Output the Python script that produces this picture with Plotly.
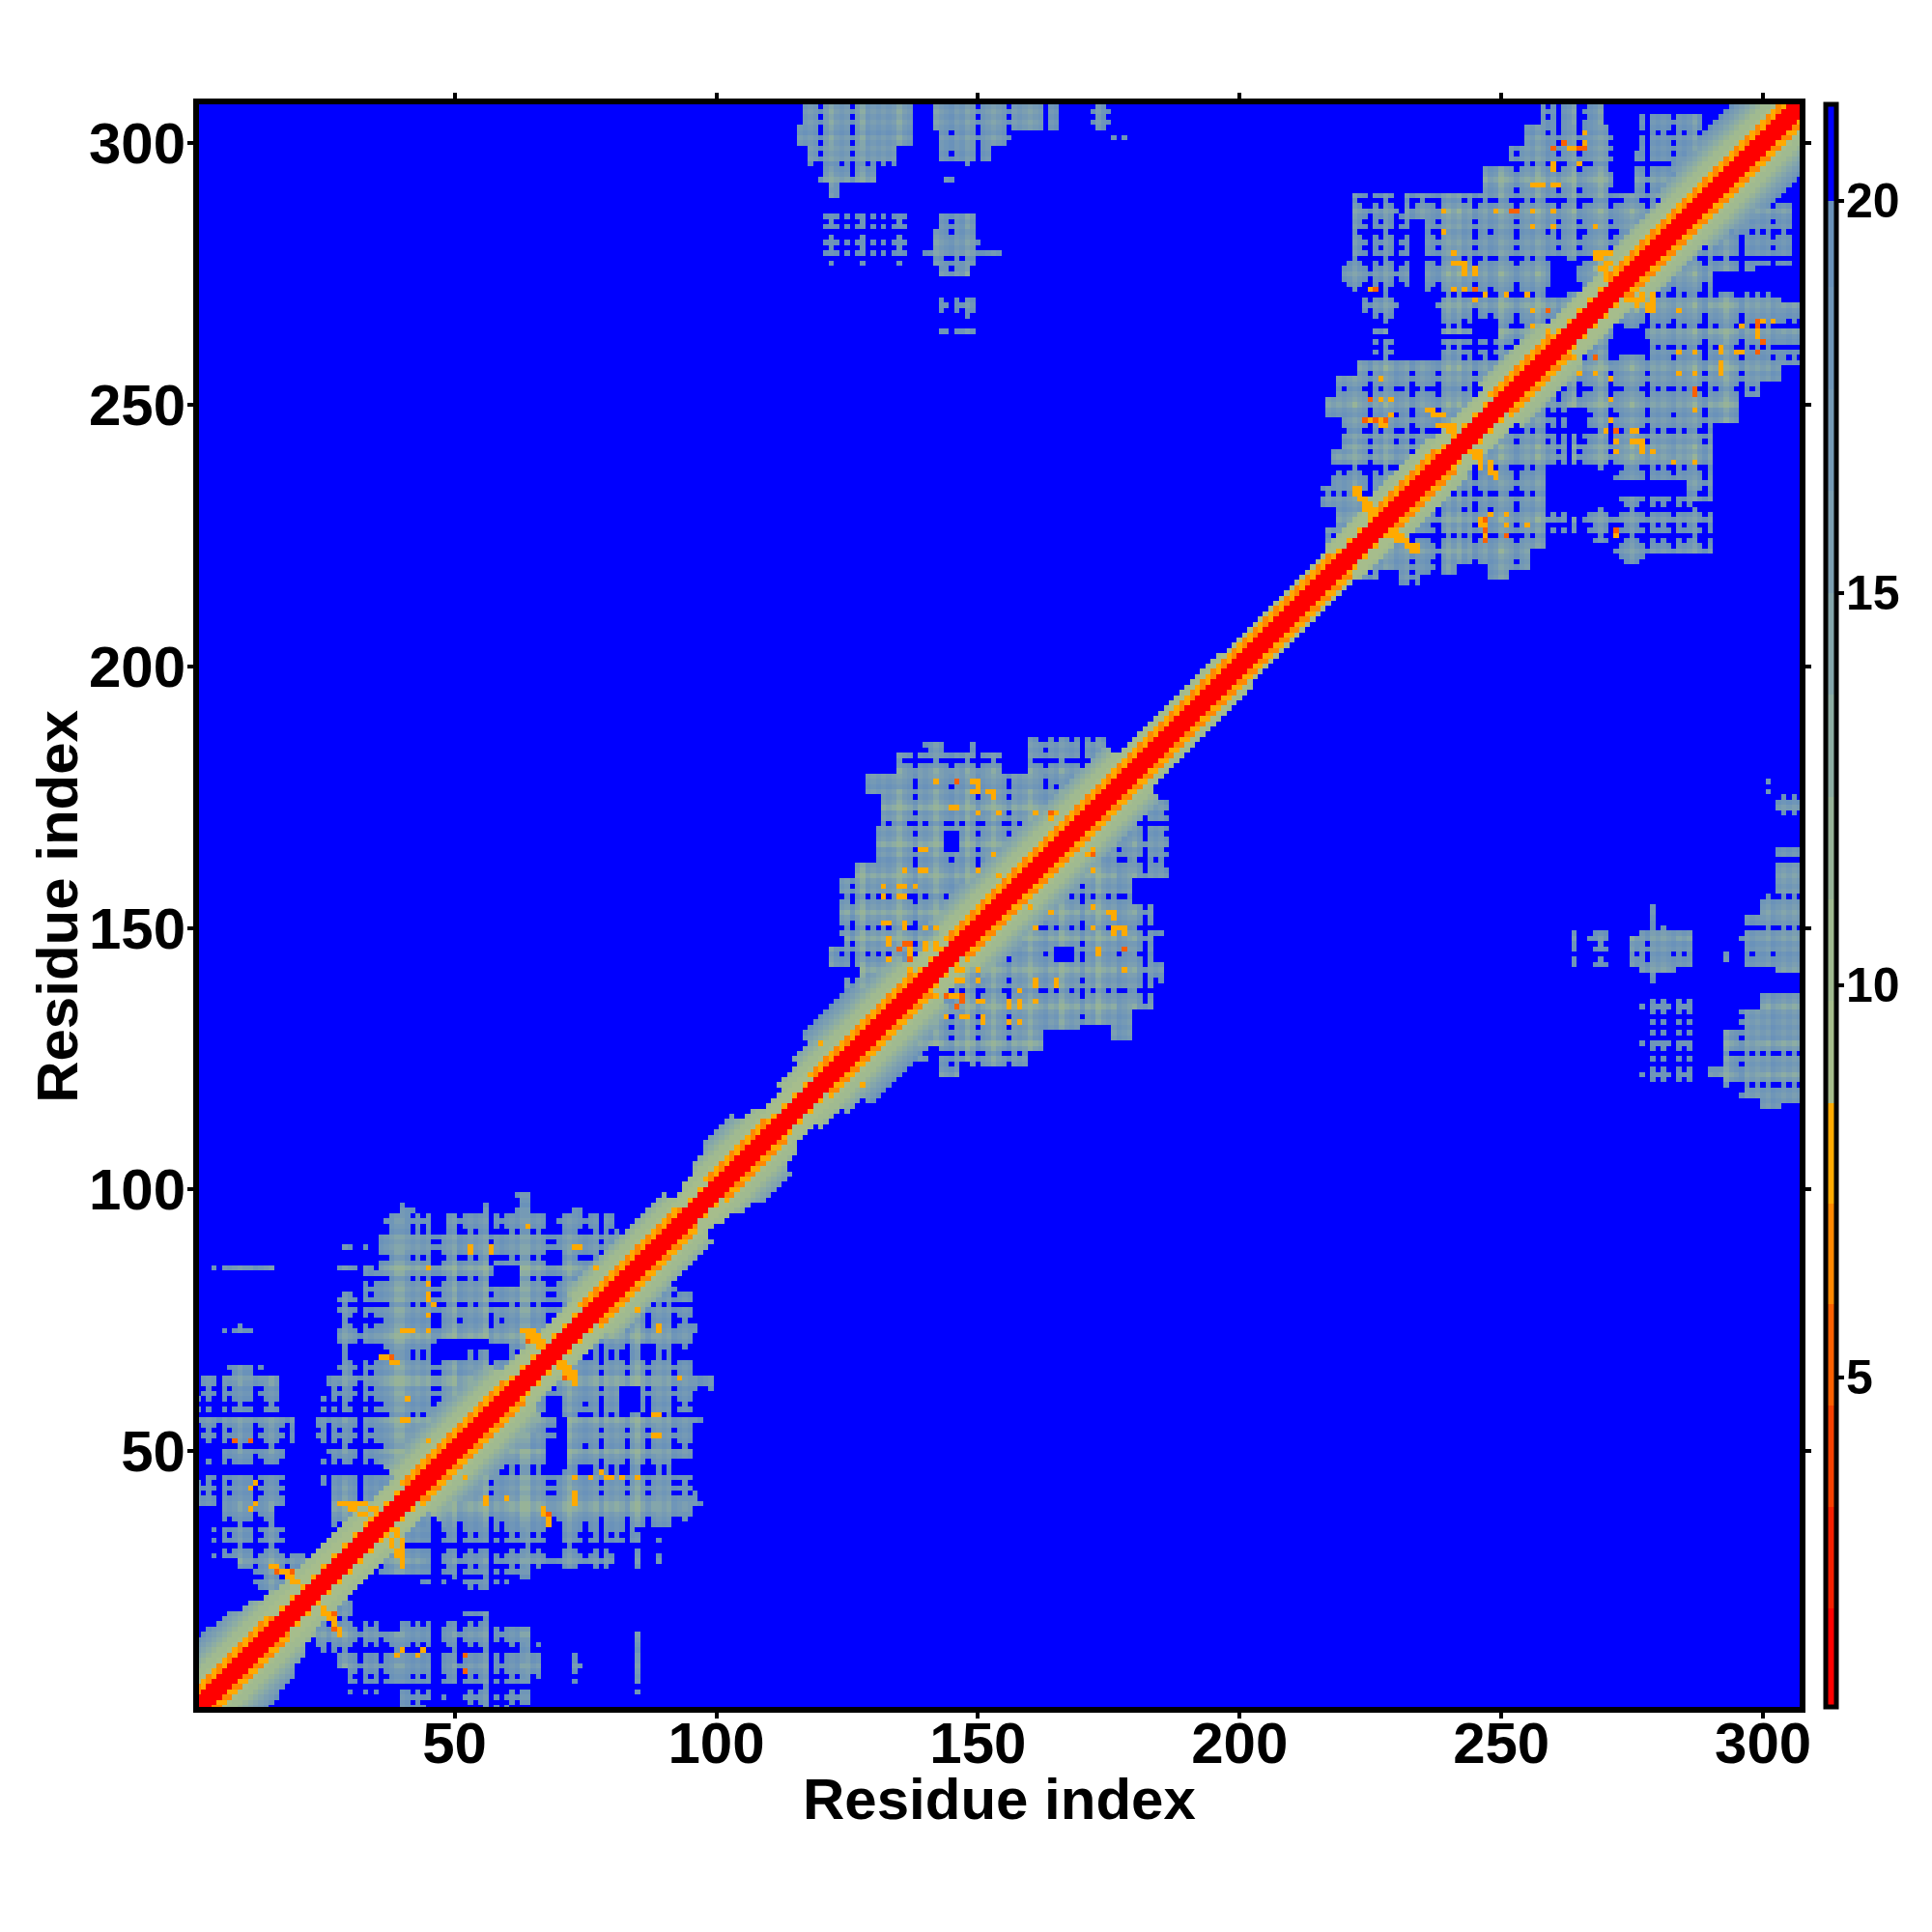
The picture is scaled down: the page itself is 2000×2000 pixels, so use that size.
import numpy as np
import plotly.graph_objects as go

# All values are estimates.
# The per-residue texture below is a coarse hand approximation of its striping.
RESIDUES = list(range(1, 308))
TICKS = [50, 100, 150, 200, 250, 300]
CBAR_TICKS = [5, 10, 15, 20]
BLUE_VALUE = 21.0

# residue 1.. : o buried, - neutral, + exposed, x and X increasingly exposed
TEXTURE = ("-+-+X-+-o-" "-x+-o-+X-+" "-o-+-x-+o-" "+X-+-x+-oo" "-+-+-XX+-o"
           "x+-+-oX+x+" "-+oo+-+XXx" "-o-+x+-X-+" "-+X-o+X+-+" "-X+-+-x+-+"
           "+x-+X-+-x+" "-+-x+-+-+X" "-o-+-X-o+-" "+-+-o-+X-+" "-o-+x-+o-X"
           "+-o-+X-+-o" "-+x-+o-+-X" "-+o-+-x+-o" "+X-+-x+-+x" "-+-x+-+-+x"
           "-+x-+-+x-+" "-x+-+x-+-+" "-o-+X-+o-x" "+-X+-+xX-o" "-o+-X+-x+o"
           "-+X+-+o-x+" "X+-oXx+-o-" "Xx+-o-+X-+" "-+x-+-o+X-" "+-o-+X-+-+"
           "-x+-+-+x+-")
TEXTURE_VALUES = {"o": -2.0, "-": 0.0, "+": 1.2, "x": 2.4, "X": 3.6}
BLOCK_OFFSET = 0.6

# diagonal: (first midpoint, last midpoint, half width, helix checker)
BAND_SEGMENTS = [
    (1, 10, 13, True), (10, 14, 12, True), (14, 17, 10, True), (17, 20, 8, False),
    (20, 26, 7, False), (26, 37, 7, False), (37, 42, 6, False),
    (42, 62, 12, True), (62, 76, 6, False), (76, 95, 9, True), (95, 97, 6, False), (97, 100, 7, False),
    (100, 103, 9, True), (103, 109, 11, True), (109, 112, 8, True), (112, 116, 6, False),
    (116, 120, 8, False), (120, 123, 10, True), (123, 136, 13, True), (136, 140, 11, True), (140, 146, 6, False),
    (146, 165, 11, True), (165, 180, 10, True), (180, 200, 6, True), (200, 220, 5, True),
    (220, 228, 6, False), (228, 240, 7, True), (240, 250, 6, False), (250, 262, 8, True),
    (262, 272, 6, False), (272, 285, 8, True), (285, 289, 10, True), (289, 308, 13, True),
]
BAND_RED = 1.5
BAND_ORANGE_A = 6.5
BAND_ORANGE_B = 7.8
BAND_PLAIN = 9.5
BAND_RAMP = [9.2, 10.0, 11.0, 12.0, 13.0, 14.5, 16.0, 17.5, 19.0]

# (y low, y high, x low, x high or None for up to the diagonal, base value)
BLOCKS = [
    # first domain
    (96, 99, 62, 64, 18), (95, 97, 40, 42, 18), (95, 97, 56, 57, 18), (95, 97, 73, 75, 18),
    (92, 95, 37, 45, 17), (92, 95, 49, 80, 16.5), (88, 92, 36, 87, 15.5), (84, 88, 36, None, 15),
    (80, 84, 36, None, 15), (76, 80, 36, None, 15), (72, 76, 36, None, 15), (68, 72, 36, None, 15),
    (64, 68, 36, None, 15), (60, 64, 36, None, 15), (56, 60, 36, None, 15), (52, 56, 36, None, 15),
    (48, 52, 36, None, 15), (44, 48, 36, None, 15), (40, 44, 36, None, 15),
    (80, 84, 32, 36, 17.5), (72, 80, 28, 36, 17.5), (64, 72, 28, 36, 17.5), (60, 64, 26, 36, 18),
    (52, 60, 24, 36, 18), (48, 52, 26, 36, 18), (44, 48, 25, 36, 18), (36, 44, 27, None, 16),
    (89, 89, 28, 34, 18.5), (85, 85, 28, 34, 18.8),
    # small block near the chain start
    (64, 66, 7, 13, 17.5), (60, 64, 2, 16, 18), (56, 60, 1, 17, 18), (52, 56, 2, 19, 17.5),
    (48, 52, 5, 18, 18), (44, 48, 3, 17, 18), (40, 44, 1, 18, 18), (37, 40, 5, 15, 18),
    (30, 36, 4, 18, 17.5), (28, 30, 9, 21, 17), (24, 28, 12, 22, 16),
    (85, 85, 4, 15, 18.7), (78, 78, 8, 9, 18), (73, 74, 4, 13, 18.5),
    # second domain
    (136, 140, 125, None, 15), (140, 143, 128, None, 15), (143, 146, 122, None, 16),
    (146, 149, 125, None, 15), (149, 154, 124, None, 15), (154, 159, 124, None, 15),
    (159, 162, 127, None, 15), (162, 166, 131, None, 15), (166, 170, 131, None, 15),
    (170, 176, 132, None, 15), (176, 179, 129, 162, 15.5), (179, 183, 135, 154, 16.5),
    (183, 185, 140, 143, 17.5), (183, 185, 145, 145, 17.5), (183, 185, 149, 149, 17.5),
    (177, 186, 160, 174, 16.5), (156, 156, 120, 120, 17.5), (151, 151, 120, 120, 17.5),
    # third domain
    (286, 290, 222, 230, 17.5), (278, 286, 222, 232, 17.5), (272, 278, 220, 232, 17.5),
    (267, 272, 224, 230, 17.5), (264, 267, 226, 228, 18),
    (303, 307, 258, 269, 16), (299, 303, 255, 271, 15.5), (295, 299, 252, 271, 15.5),
    (290, 295, 247, 271, 15), (286, 290, 232, None, 15.5), (278, 286, 236, None, 15.5),
    (272, 278, 236, None, 15.5), (267, 272, 238, None, 16), (264, 267, 239, 244, 16.5),
    (263, 271, 250, None, 15), (298, 305, 277, 288, 16), (289, 298, 276, 288, 16),
    (258, 262, 225, 229, 17), (258, 262, 239, None, 16), (255, 258, 223, None, 15.5),
    (251, 255, 219, None, 15.5), (248, 251, 217, None, 15.5), (244, 248, 220, None, 15.5),
    (241, 244, 220, None, 16), (237, 241, 218, None, 16), (234, 237, 218, None, 16),
    (231, 234, 216, None, 15.5), (226, 231, 219, None, 15.5), (222, 226, 217, None, 15.5),
    # far contacts, top of the map
    (303, 307, 117, 137, 15), (300, 303, 116, 137, 15), (296, 300, 118, 134, 15.5),
    (293, 296, 120, 130, 16), (290, 293, 122, 123, 17), (290, 293, 126, 126, 17),
    (303, 307, 142, 162, 15.5), (303, 307, 164, 165, 16), (303, 307, 172, 175, 17.5),
    (300, 303, 143, 156, 15.5), (296, 300, 143, 152, 16.5), (293, 293, 144, 145, 17),
    (283, 286, 143, 149, 16), (277, 283, 142, 150, 15.5), (278, 279, 140, 154, 18),
    (275, 277, 143, 148, 17), (264, 271, 143, 149, 19), (277, 286, 121, 137, 19),
    (266, 266, 129, 129, 17), (301, 301, 176, 178, 17),
]

# (y low, y high, x low, x high)
HOLES = [
    (68, 70, 46, 51), (68, 70, 57, 60), (70, 71, 47, 56), (86, 88, 68, 70), (82, 85, 58, 62),
    (272, 277, 260, 264), (261, 264, 271, 277), (165, 168, 144, 146),
]

# two cells thick hairpin arms
ARM_CONTACTS = [
    (15, 28), (17, 27), (18, 26), (19, 25), (28, 40), (30, 40), (32, 40), (34, 39), (34, 37),
    (36, 68), (38, 67), (63, 73), (64, 72), (65, 71), (66, 70), (71, 66), (72, 65), (73, 64),
    (37, 34), (38, 32), (39, 30), (40, 28), (268, 279), (270, 279), (270, 277), (270, 275),
    (276, 269), (278, 268), (236, 249), (238, 248), (240, 246), (222, 234), (223, 232), (224, 230),
    (225, 228), (229, 225), (231, 224), (233, 222), (245, 240), (246, 238), (248, 237),
    (246, 227), (247, 225), (225, 247), (227, 247),
]
ORANGE_CONTACTS = [
    (40, 73), (41, 73), (45, 79), (46, 78), (45, 80), (53, 89), (57, 89), (73, 89), (77, 85),
    (40, 56), (41, 56), (45, 52), (41, 60), (64, 93), (53, 88), (88, 57), (88, 53), (85, 77), (89, 74),
    (93, 64), (73, 45), (76, 45), (79, 45), (82, 45), (85, 45), (73, 42), (67, 38), (68, 37), (56, 41),
    (8, 52), (11, 52), (11, 43), (11, 39),
    (40, 12), (44, 12), (142, 178), (146, 178), (149, 178), (150, 178), (149, 176), (152, 176), (153, 176),
    (153, 175), (145, 173), (150, 172), (154, 172), (161, 172), (164, 172), (164, 171), (139, 165), (153, 164),
    (136, 161), (139, 161), (150, 161), (154, 160), (132, 158), (135, 158), (138, 158), (132, 156), (135, 156),
    (132, 151), (136, 151), (140, 150), (142, 150), (133, 148), (133, 147), (140, 147), (142, 147), (142, 146),
    (133, 144), (137, 142), (146, 137), (142, 137), (145, 137), (146, 140), (150, 140), (161, 140), (165, 140),
    (150, 136), (156, 136), (158, 136), (161, 136), (144, 133), (147, 133), (151, 133), (156, 132), (158, 132),
    (172, 154), (176, 153), (176, 150), (177, 150), (178, 150), (172, 150), (173, 146), (178, 142), (160, 154),
    (161, 150), (172, 165), (120, 128), (128, 120),
    (266, 300), (260, 299), (263, 299), (260, 296), (265, 296), (256, 292), (257, 292), (260, 292), (261, 292),
    (239, 287), (249, 287), (256, 287), (260, 287), (256, 284), (260, 284), (239, 283), (268, 284), (241, 279),
    (241, 277), (242, 277), (243, 277), (243, 275), (245, 275), (241, 272), (243, 272), (247, 271), (251, 271),
    (255, 271), (256, 268), (256, 265), (259, 264), (225, 272), (226, 272), (269, 278), (271, 272), (279, 270),
    (284, 268), (227, 251), (227, 255), (241, 244), (234, 222), (249, 236), (248, 229), (251, 229),
    (270, 245), (272, 243), (276, 243), (276, 245), (292, 258), (295, 260), (299, 264), (302, 266),
]
RED_CONTACTS = [
    (16, 27), (19, 27), (38, 68), (64, 71), (8, 52), (52, 11), (52, 8), (136, 147), (137, 147), (137, 144),
    (252, 287), (253, 287), (260, 299), (265, 299), (266, 299), (224, 247), (226, 247), (228, 247),
    (225, 251), (226, 272), (245, 272), (259, 268), (300, 262), (146, 178), (164, 172), (146, 135),
]
ORANGE_VALUE = 7.6
RED_VALUE = 5.4

N = len(RESIDUES)
first = RESIDUES[0]
texture = np.array([TEXTURE_VALUES[TEXTURE[r - 1]] for r in RESIDUES])
z = np.full((N, N), BLUE_VALUE)


def index(res):
    return min(max(res, first), RESIDUES[-1]) - first


# y > x triangle first, then mirrored
for ylo, yhi, xlo, xhi, base in BLOCKS:
    for y in range(max(ylo, first), min(yhi, RESIDUES[-1]) + 1):
        top = y - 1 if xhi is None else min(xhi, y - 1)
        for x in range(max(xlo, first), top + 1):
            value = base + BLOCK_OFFSET + texture[index(x)] + texture[index(y)]
            if value < 20:
                z[index(y), index(x)] = min(z[index(y), index(x)], value)

for ylo, yhi, xlo, xhi in HOLES:
    z[index(ylo):index(yhi) + 1, index(xlo):index(xhi) + 1] = BLUE_VALUE

for x, y in ARM_CONTACTS:
    hi, lo = max(x, y), min(x, y)
    z[index(hi), index(lo)] = ORANGE_VALUE
    z[index(hi), index(lo + 1)] = ORANGE_VALUE
for x, y in ORANGE_CONTACTS:
    z[index(max(x, y)), index(min(x, y))] = ORANGE_VALUE
for x, y in RED_CONTACTS:
    z[index(max(x, y)), index(min(x, y))] = RED_VALUE

for y in RESIDUES:
    for x in RESIDUES:
        d = y - x
        if d < 0 or d > 13:
            continue
        mid = (x + y) // 2
        width, helix = 6, False
        for lo, hi, w, h in BAND_SEGMENTS:
            if lo <= mid < hi:
                width, helix = w, h
                break
        if d <= 2:
            v = BAND_RED
        elif d <= 4:
            if helix:
                alternate = (mid % 2 == 0) == (d == 3)
                v = BAND_ORANGE_A if alternate else BAND_ORANGE_B
            else:
                v = BAND_ORANGE_B if (d == 3 and mid % 2 == 0) else BAND_PLAIN
        elif d <= width:
            v = BAND_RAMP[d - 5]
        else:
            continue
        z[index(y), index(x)] = min(z[index(y), index(x)], v)

z = np.minimum(z, z.T)

ZMIN = 0.80
ZMAX = 21.23
EDGES = [0.80, 2.06, 3.35, 4.64, 5.93, 7.22, 8.5, 9.8, 11.1, 12.4, 13.7, 15.0, 16.3, 17.6, 18.9, 20.0, 21.23]
COLORS = ["#ff0000", "#f52000", "#f54000", "#fb6000", "#ff8800", "#ffaa00",
          "#a6bd8c", "#a0ba90", "#97b398", "#8dada3", "#84a6ab", "#7c9fb1",
          "#759ab5", "#6f96b8", "#6a92ba", "#0000ff"]
scale = []
for k, c in enumerate(COLORS):
    scale.append([(EDGES[k] - ZMIN) / (ZMAX - ZMIN), c])
    scale.append([(EDGES[k + 1] - ZMIN) / (ZMAX - ZMIN), c])

FONT = "Liberation Sans"
title_font = dict(family=FONT, size=60, color="black", weight="bold")
fig = go.Figure(go.Heatmap(
    x=RESIDUES, y=RESIDUES, z=z, zmin=ZMIN, zmax=ZMAX, colorscale=scale, zsmooth=False,
    hoverongaps=False,
    colorbar=dict(
        x=1.016, xanchor="left", y=0.5, yanchor="middle", len=1, lenmode="fraction",
        thickness=11, thicknessmode="pixels", outlinewidth=5, outlinecolor="black",
        xpad=0, ypad=0, tickmode="array", tickvals=CBAR_TICKS, ticks="outside",
        ticklen=6, tickwidth=4, tickcolor="black", showticklabels=False,
    ),
))
axis_common = dict(
    tickmode="array", tickvals=TICKS, ticks="outside", ticklen=6, tickwidth=4,
    tickcolor="black", showline=True, linewidth=6, linecolor="black", mirror="allticks",
    showgrid=False, zeroline=False, automargin=False,
    tickfont=dict(family=FONT, size=60, color="black", weight="bold"),
)
fig.update_xaxes(range=[1.16, 307.0], ticklabelstandoff=-26, **axis_common)
fig.update_yaxes(range=[1.1, 307.4], ticklabelstandoff=-10, **axis_common)
annotations = [
    dict(text="Residue index", xref="paper", yref="paper", x=0.5, y=-0.0573, xanchor="center", yanchor="middle",
         showarrow=False, font=title_font),
    dict(text="Residue index", xref="paper", yref="paper", x=-0.0881, y=0.4992, xanchor="center", yanchor="middle",
         textangle=-90, showarrow=False, font=title_font),
]
for v in CBAR_TICKS:
    annotations.append(dict(text=str(v), xref="paper", yref="paper", x=1.0278, y=(v - ZMIN) / (ZMAX - ZMIN),
                            xanchor="left", yanchor="middle", showarrow=False,
                            font=dict(family=FONT, size=50, color="black", weight="bold")))
fig.update_layout(
    width=2000, height=2000, autosize=False, paper_bgcolor="white", plot_bgcolor="#0000ff",
    margin=dict(l=206, r=137, t=108, b=233, autoexpand=False),
    annotations=annotations,
)
fig.write_html("out.html", config={"displayModeBar": False},
               post_script="document.body.style.margin='0';document.body.style.overflow='hidden';")
